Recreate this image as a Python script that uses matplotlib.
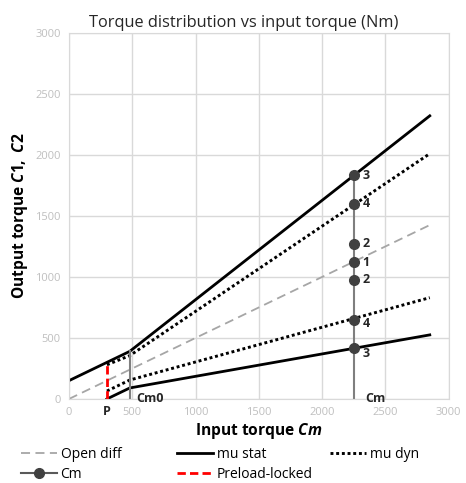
import matplotlib.pyplot as plt

plt.rcParams['font.family'] = ['Open Sans', 'DejaVu Sans']
plt.rcParams['mathtext.fontset'] = 'custom'
plt.rcParams['mathtext.it'] = 'Open Sans:bold:italic'
plt.rcParams['mathtext.rm'] = 'Open Sans:bold'

# data
open_x = [0, 2850]
open_y = [0, 1425]

stat_up_x = [0, 300, 480, 2850]
stat_up_y = [150, 300, 390, 2320]
stat_lo_x = [300, 480, 2850]
stat_lo_y = [0, 90, 525]

dyn_up_x = [300, 480, 2850]
dyn_up_y = [280, 355, 2010]
dyn_lo_x = [300, 480, 2850]
dyn_lo_y = [65, 155, 830]

cm_value = 2250
cm_points = [0, 415, 650, 975, 1122, 1270, 1600, 1832]
cm_labels = ['', '3', '4', '2', '1', '2', '4', '3']

preload_x = [300, 300]
preload_y = [0, 300]
cm0_x = [480, 480]
cm0_y = [0, 390]

# small vertical nudges for the point labels (the two lowest sit a bit below their dots)
label_dy = [0, -45, -35, 0, 0, 0, 0, 0]

fig = plt.figure(figsize=(4.66, 4.83), dpi=100)
ax = fig.add_axes([0.148, 0.174, 0.815, 0.758])

dots = (0, (1, 0.95))
h_open, = ax.plot(open_x, open_y, color='#a6a6a6', linestyle=(0, (5, 3)), linewidth=1.3)
h_stat, = ax.plot(stat_up_x, stat_up_y, color='black', linewidth=2)
ax.plot(stat_lo_x, stat_lo_y, color='black', linewidth=2)
h_dyn, = ax.plot(dyn_up_x, dyn_up_y, color='black', linestyle=dots, linewidth=2.1)
ax.plot(dyn_lo_x, dyn_lo_y, color='black', linestyle=dots, linewidth=2.1)
ax.plot(cm0_x, cm0_y, color='#7f7f7f', linewidth=1.5)
ax.plot([cm_value] * len(cm_points), cm_points, color='#7f7f7f', linewidth=1.5)
ax.plot([cm_value] * (len(cm_points) - 1), cm_points[1:], linestyle='none',
        marker='o', markersize=7, markerfacecolor='#404040', markeredgecolor='#404040')
# legend handle for Cm
h_cm, = ax.plot([], [], color='#595959', marker='o', markersize=7, markerfacecolor='#404040',
                markeredgecolor='#404040', linewidth=1.5)
h_pre, = ax.plot(preload_x, preload_y, color='#ff0000', linestyle=(0, (3, 1.5)), linewidth=2)

for yv, lab, dy in zip(cm_points, cm_labels, label_dy):
    if lab:
        ax.text(cm_value + 70, yv + dy, lab, fontsize=9, fontweight='bold', va='center', ha='left', color='#262626')

ax.text(cm_value + 90, 0, 'Cm', fontsize=9, fontweight='bold', va='center', ha='left', color='#262626')
ax.text(530, 0, 'Cm0', fontsize=9, fontweight='bold', va='center', ha='left', color='#262626')
ax.text(300, -100, 'P', fontsize=9, fontweight='bold', va='center', ha='center', color='#262626')

ax.set_xlim(0, 3000)
ax.set_ylim(0, 3000)
ax.set_xticks(range(0, 3001, 500))
ax.set_yticks(range(0, 3001, 500))
ax.tick_params(colors='#bfbfbf', labelsize=8, length=0, pad=6)
ax.grid(True, color='#d9d9d9', linewidth=1)
for s in ax.spines.values():
    s.set_color('#d9d9d9')

ax.set_title('Torque distribution vs input torque (Nm)', fontsize=11.8, color='#262626', pad=4, x=0.46)
ax.set_xlabel(r'Input torque $Cm$', fontsize=11.2, fontweight='bold', labelpad=2)
ax.set_ylabel(r'Output torque $C1,\ C2$', fontsize=11.2, fontweight='bold', labelpad=4)

# legend: three columns placed like the reference
leg_kw = dict(loc='upper left', frameon=False, fontsize=10, handlelength=2.6,
              handletextpad=0.25, labelspacing=0.35, borderpad=0, borderaxespad=0)
leg_top = 1 - 447 / 483
fig.legend([h_open, h_cm], ['Open diff', 'Cm'], bbox_to_anchor=(21 / 466, leg_top), **leg_kw)
fig.legend([h_stat, h_pre], ['mu stat', 'Preload-locked'], bbox_to_anchor=(177 / 466, leg_top), **leg_kw)
fig.legend([h_dyn], ['mu dyn'], bbox_to_anchor=(330 / 466, leg_top), **leg_kw)

fig.savefig('out.png', dpi=100)
